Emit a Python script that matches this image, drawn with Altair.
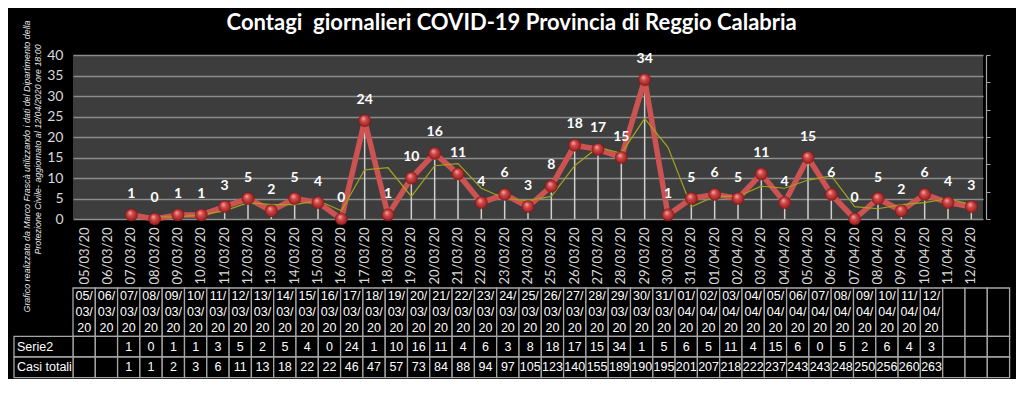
import altair as alt
import pandas as pd

# ---------------- data ----------------
dates = [
    "05/03/20", "06/03/20", "07/03/20", "08/03/20", "09/03/20", "10/03/20",
    "11/03/20", "12/03/20", "13/03/20", "14/03/20", "15/03/20", "16/03/20",
    "17/03/20", "18/03/20", "19/03/20", "20/03/20", "21/03/20", "22/03/20",
    "23/03/20", "24/03/20", "25/03/20", "26/03/20", "27/03/20", "28/03/20",
    "29/03/20", "30/03/20", "31/03/20", "01/04/20", "02/04/20", "03/04/20",
    "04/04/20", "05/04/20", "06/04/20", "07/04/20", "08/04/20", "09/04/20",
    "10/04/20", "11/04/20", "12/04/20",
]
serie2 = [None, None, 1, 0, 1, 1, 3, 5, 2, 5, 4, 0, 24, 1, 10, 16, 11, 4, 6, 3,
          8, 18, 17, 15, 34, 1, 5, 6, 5, 11, 4, 15, 6, 0, 5, 2, 6, 4, 3]
casi_totali = [None, None, 1, 1, 2, 3, 6, 11, 13, 18, 22, 22, 46, 47, 57, 73,
               84, 88, 94, 97, 105, 123, 140, 155, 189, 190, 195, 201, 207,
               218, 222, 237, 243, 243, 248, 250, 256, 260, 263]
row_labels = ["Serie2", "Casi totali"]
y_ticks = [0, 5, 10, 15, 20, 25, 30, 35, 40]
right_ticks = [0, 6.667, 13.333, 20, 26.667, 33.333, 40]
extra_empty_cols = 3
title_text = "Contagi\u00a0 giornalieri COVID-19 Provincia di Reggio Calabria"
note_lines = [
    "Grafico  realizzato da Marco Frascà  utilizzando i dati del Dipartimento  della",
    "Protezione Civile- aggiornato al  12/04/2020 ore 18:00",
]

# ---------------- layout / style ----------------
W, H = 910, 164
FONT = "Lato"
TFONT = "Liberation Sans"
LIGHT = "#d9d9d9"
GRID = "#8c8c8c"
COL_W = 22.3          # table column width (px)
ROWHEAD_W = 59        # table row-header width (px)
TABLE_TOP = 233       # px below plot top
HEADER_H = 48.4
ROW_H = 20.6
LINE_H = 16

df = pd.DataFrame({"idx": list(range(len(dates))), "date": dates, "val": serie2})

xs = alt.Scale(domain=dates)
ys = alt.Scale(domain=[0, 40], nice=False, zero=True)

x_axis = alt.X("date:N", sort=dates, scale=xs,
               axis=alt.Axis(title=None, labelAngle=270, labelColor=LIGHT,
                             labelFont=FONT, labelFontSize=13, domain=False,
                             ticks=False, grid=False, labelPadding=8))
y_left = alt.Y("val:Q", scale=ys,
               axis=alt.Axis(title=None, values=y_ticks, grid=True,
                             gridColor=GRID, gridWidth=1.5, domain=False,
                             ticks=False, labelColor=LIGHT, labelFont=FONT,
                             labelFontSize=14, labelPadding=10))
y_noaxis = alt.Y("val:Q", scale=ys, axis=None)
y_right = alt.Y("val:Q", scale=ys,
                axis=alt.Axis(title=None, orient="right", values=right_ticks,
                              labels=False, grid=False, domain=True,
                              domainColor="#a6a6a6", domainWidth=1.2,
                              ticks=True, tickSize=4, tickColor="#a6a6a6",
                              offset=3))

base = alt.Chart(df).transform_filter("isValid(datum.val)")

drop = base.mark_rule(color="#d0d0d0", strokeWidth=1.5).encode(
    x=x_axis, y=y_left, y2=alt.datum(0))

red_line = base.mark_line(color="#cc5352", strokeWidth=5.5,
                          strokeJoin="round").encode(x=x_axis, y=y_noaxis)

trend = base.transform_window(
    avg="mean(val)", n="count()", sort=[alt.SortField("idx")], frame=[-1, 0]
).transform_filter("datum.n == 2").mark_line(
    color="#a3a31c", strokeWidth=1.2).encode(
    x=x_axis, y=alt.Y("avg:Q", scale=ys, axis=None))

ball = alt.Gradient(
    gradient="radial",
    stops=[alt.GradientStop(color="#f6b0b0", offset=0),
           alt.GradientStop(color="#d04848", offset=0.4),
           alt.GradientStop(color="#8c1818", offset=1)],
    x1=0.38, y1=0.3, r1=0, x2=0.5, y2=0.5, r2=0.55)
points = base.mark_point(filled=True, shape="circle", size=150, opacity=1,
                         fill=ball, stroke="#7a1414", strokeWidth=0.5).encode(
    x=x_axis, y=y_noaxis)

labels = base.mark_text(dy=-21, color="white", font=FONT, fontSize=14,
                        fontWeight="bold").encode(
    x=x_axis, y=y_noaxis, text="val:Q")

right_axis = base.mark_tick(opacity=0).encode(x=x_axis, y=y_right)

plot = alt.layer(drop, red_line, trend, points, labels, right_axis
                 ).resolve_axis(y="independent")

# ---------------- table ----------------
n_cols = len(dates) + extra_empty_cols
tx = alt.Scale(domain=[0, W / COL_W], nice=False, zero=False)
ty = alt.Scale(domain=[0, H], nice=False, zero=False, reverse=True)

r_head0 = TABLE_TOP
r_head1 = TABLE_TOP + HEADER_H
r_s1 = r_head1 + ROW_H
r_t1 = r_s1 + ROW_H

cells = []
for i in range(n_cols):
    cells.append({"c0": i, "c1": i + 1, "r0": r_head0, "r1": r_head1})
    cells.append({"c0": i, "c1": i + 1, "r0": r_head1, "r1": r_s1})
    cells.append({"c0": i, "c1": i + 1, "r0": r_s1, "r1": r_t1})
rh0 = -ROWHEAD_W / COL_W
cells.append({"c0": rh0, "c1": 0, "r0": r_head1, "r1": r_s1})
cells.append({"c0": rh0, "c1": 0, "r0": r_s1, "r1": r_t1})
cells_df = pd.DataFrame(cells)

table_cells = alt.Chart(cells_df).mark_rect(
    fill="black", stroke="#a6a6a6", strokeWidth=1.3).encode(
    x=alt.X("c0:Q", scale=tx, axis=None), x2="c1:Q",
    y=alt.Y("r0:Q", scale=ty, axis=None), y2="r1:Q")

texts = []
for i, d in enumerate(dates):
    parts = [d[0:3], d[3:6], d[6:8]]
    for k, p in enumerate(parts):
        texts.append({"c": i + 0.5, "r": r_head0 + 8.4 + LINE_H * k, "t": p})
    if serie2[i] is not None:
        texts.append({"c": i + 0.5, "r": (r_head1 + r_s1) / 2, "t": str(serie2[i])})
    if casi_totali[i] is not None:
        texts.append({"c": i + 0.5, "r": (r_s1 + r_t1) / 2, "t": str(casi_totali[i])})
texts_df = pd.DataFrame(texts)

table_text = alt.Chart(texts_df).mark_text(
    color="white", font=TFONT, fontSize=12.5, baseline="middle").encode(
    x=alt.X("c:Q", scale=tx, axis=None),
    y=alt.Y("r:Q", scale=ty, axis=None), text="t:N")

rowhead_df = pd.DataFrame({
    "c": [rh0, rh0],
    "r": [(r_head1 + r_s1) / 2, (r_s1 + r_t1) / 2],
    "t": row_labels})
rowhead = alt.Chart(rowhead_df).mark_text(
    color="white", font=TFONT, fontSize=12.5, align="left", baseline="middle",
    dx=3).encode(
    x=alt.X("c:Q", scale=tx, axis=None),
    y=alt.Y("r:Q", scale=ty, axis=None), text="t:N")

note_df = pd.DataFrame({
    "c": [(27.5 - 73.3) / COL_W, (38.5 - 73.3) / COL_W],
    "r": [111.5, 94.5],
    "t": note_lines})
note = alt.Chart(note_df).mark_text(
    color="#e6e6e6", font=TFONT, fontSize=8.9, fontStyle="italic", angle=270,
    align="center", baseline="middle").encode(
    x=alt.X("c:Q", scale=tx, axis=None),
    y=alt.Y("r:Q", scale=ty, axis=None), text="t:N")

title_df = pd.DataFrame({"c": [(512 - 73.3) / COL_W], "r": [-32.5],
                         "t": [title_text]})
title = alt.Chart(title_df).mark_text(
    color="white", font=FONT, fontSize=22, fontWeight="bold",
    align="center", baseline="middle").encode(
    x=alt.X("c:Q", scale=tx, axis=None),
    y=alt.Y("r:Q", scale=ty, axis=None), text="t:N")

chart = alt.layer(plot, table_cells, table_text, rowhead, note, title
                  ).resolve_scale(
    x="independent", y="independent"
).properties(
    width=W, height=H,
    padding={"left": 65, "top": 47, "right": 33, "bottom": 160},
    autosize=alt.AutoSizeParams(type="none"),
    background="black",
).configure_view(fill="#3d3d3d", stroke=None)

chart.save("out.html", embed_options={"renderer": "svg", "actions": False})
